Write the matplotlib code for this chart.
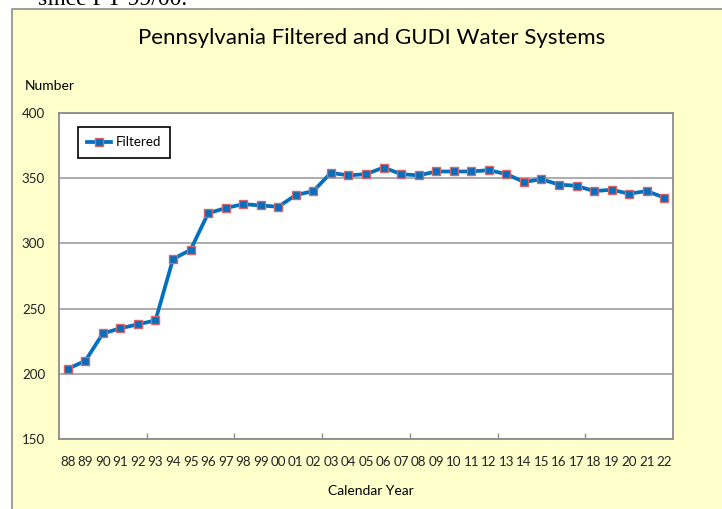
import matplotlib.pyplot as plt
from matplotlib.patches import Rectangle

W, H = 722, 509

years = ["88", "89", "90", "91", "92", "93", "94", "95", "96", "97", "98", "99",
         "00", "01", "02", "03", "04", "05", "06", "07", "08", "09", "10", "11",
         "12", "13", "14", "15", "16", "17", "18", "19", "20", "21", "22"]
filtered = [204, 210, 231, 235, 238, 241, 288, 295, 323, 327, 330, 329,
            328, 337, 340, 354, 352, 353, 358, 353, 352, 355, 355, 355,
            356, 353, 347, 349, 345, 344, 340, 341, 338, 340, 335]

plt.rcParams['font.family'] = ['Lato', 'DejaVu Sans']

fig = plt.figure(figsize=(W / 100, H / 100), dpi=100, facecolor="white")

# chart area (yellow box), runs off the right/bottom of the picture
fig.patches.append(Rectangle((12 / W, -0.1), 1.0, (H - 9) / H + 0.1,
                             transform=fig.transFigure, facecolor="#FFFFCC",
                             edgecolor="#8C8C8C", linewidth=1.2, zorder=-1))

# leftover text line above the chart, cut off at the top
fig.text(38 / W, 1 - 5 / H, "since FY 99/00.", family="Liberation Serif",
         fontsize=17, color="black", va="baseline", ha="left")

ax = fig.add_axes([59 / W, (H - 439.3) / H, 614 / W, 326.6 / H])
ax.set_zorder(2)
ax.set_facecolor("white")

x = list(range(len(years)))
ax.plot(x, filtered, color="#0070C0", linewidth=2.7, marker="s", markersize=6,
        markerfacecolor="#0070C0", markeredgecolor="#D9646A", markeredgewidth=1.0,
        label="Filtered", zorder=3)

ax.set_xlim(-0.5, len(years) - 0.5)
ax.set_ylim(150, 400)
ax.set_yticks([150, 200, 250, 300, 350, 400])
ax.set_xticks(x)
ax.set_xticklabels(years)
ax.set_xticks([4.5, 9.5, 14.5, 19.5, 24.5, 29.5], minor=True)
ax.tick_params(axis="both", which="major", length=0, labelsize=9.6, colors="#222222")
ax.tick_params(axis="x", which="major", pad=12)
ax.tick_params(axis="y", which="major", pad=10)
ax.tick_params(axis="x", which="minor", direction="in", length=4, color="#8C8C8C", width=1)
ax.grid(axis="y", color="#A6A6A6", linewidth=1.3)
ax.set_axisbelow(True)
for s in ax.spines.values():
    s.set_color("#8C8C8C")
    s.set_linewidth(1.3)

fig.text(372 / W, 1 - 38 / H, "Pennsylvania Filtered and GUDI Water Systems",
         fontsize=16, ha="center", va="center", color="black")
fig.text(25 / W, 1 - 86 / H, "Number", fontsize=10, ha="left", va="center")
fig.text(371 / W, 1 - 491 / H, "Calendar Year", fontsize=10, ha="center", va="center")

leg = ax.legend(loc="upper left", bbox_to_anchor=(0.031, 0.956), fontsize=9.6,
                handlelength=1.8, handletextpad=0.3, borderpad=0.7,
                fancybox=False, framealpha=1, edgecolor="black", borderaxespad=0)
leg.get_frame().set_linewidth(1.2)

plt.savefig("out.png", dpi=100, facecolor=fig.get_facecolor())
